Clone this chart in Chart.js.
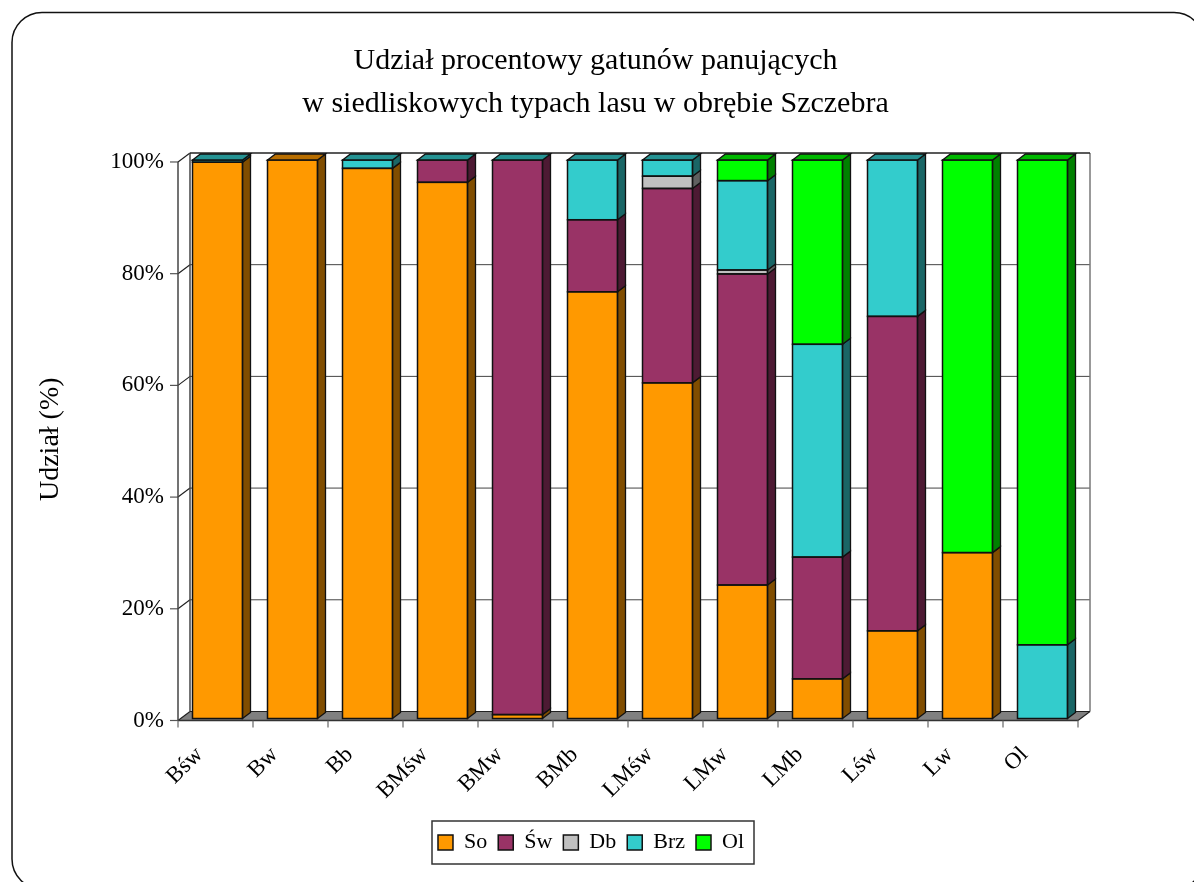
<!DOCTYPE html>
<html>
<head>
<meta charset="utf-8">
<title>Udział procentowy gatunów panujących</title>
<script src="https://cdn.jsdelivr.net/npm/chart.js@4"></script>
<style>
  html, body { margin: 0; padding: 0; background: #fff; overflow: hidden; }
  canvas { display: block; }
</style>
</head>
<body>
<canvas id="chart" width="1194" height="882"></canvas>
<script>
const categories = ['Bśw', 'Bw', 'Bb', 'BMśw', 'BMw', 'BMb', 'LMśw', 'LMw', 'LMb', 'Lśw', 'Lw', 'Ol'];
const titleLines = ['Udział procentowy gatunów panujących', 'w siedliskowych typach lasu w obrębie Szczebra'];
const yAxisLabel = 'Udział (%)';

// null = gatunek nie wystepuje, 0 = jest w tabeli ale zerowy (wtedy gorna scianka ma jego kolor)
const so  = [99.6, 100, 98.5, 96, 0.7, 76.4, 60.1, 23.9, 7.1, 15.7, 29.7, null];
const sw  = [null, null, null, 4, 99.3, 12.9, 34.8, 55.7, 21.8, 56.3, null, null];
const db  = [null, null, null, null, null, null, 2.2, 0.7, null, null, null, null];
const brz = [0.4, null, 1.5, 0, 0, 10.7, 2.9, 16, 38.1, 28, null, 13.2];
const ol  = [null, null, null, null, null, null, null, 3.7, 33, null, 70.3, 86.8];

const FONT = '"Liberation Serif", "Times New Roman", serif';
const OUTLINE = '#111';
const BAR_DX = 8, BAR_DY = 6;     // glebokosc slupka
const WALL_DX = 12, WALL_DY = 9;  // glebokosc tylnej sciany
const FRONT_DX = -2, FRONT_DY = 2; // przednia plaszczyzna osi wzgledem slupkow

function shade(hex, k) {
  let n = parseInt(hex.slice(1), 16);
  let r = Math.round((n >> 16 & 255) * k);
  let g = Math.round((n >> 8 & 255) * k);
  let b = Math.round((n & 255) * k);
  return 'rgb(' + r + ',' + g + ',' + b + ')';
}

function line(ctx, x1, y1, x2, y2, color, width) {
  ctx.beginPath();
  ctx.moveTo(x1, y1);
  ctx.lineTo(x2, y2);
  ctx.strokeStyle = color;
  ctx.lineWidth = width;
  ctx.stroke();
}

function poly(ctx, pts, fill) {
  ctx.beginPath();
  pts.forEach(function(p, i) {
    if (i === 0) ctx.moveTo(p[0], p[1]); else ctx.lineTo(p[0], p[1]);
  });
  ctx.closePath();
  ctx.fillStyle = fill;
  ctx.fill();
  ctx.strokeStyle = OUTLINE;
  ctx.lineWidth = 1.3;
  ctx.stroke();
}

function makeDataset(label, data, color) {
  return {
    label: label,
    data: data,
    backgroundColor: color,
    borderWidth: 0,
    inflateAmount: 0
  };
}

function legendLabels(chart) {
  let items = Chart.defaults.plugins.legend.labels.generateLabels(chart);
  items.forEach(function(it) {
    it.strokeStyle = OUTLINE;
    it.lineWidth = 1.5;
  });
  return items;
}

// rama, tylna sciana, podloga i siatka
const wallPlugin = {
  id: 'wall',
  beforeDraw(chart) {
    let ctx = chart.ctx;
    ctx.save();
    ctx.fillStyle = '#fff';
    ctx.fillRect(0, 0, chart.width, chart.height);
    ctx.beginPath();
    ctx.roundRect(12, 12.5, 1192, 876.5, 30);
    ctx.strokeStyle = '#111';
    ctx.lineWidth = 1.5;
    ctx.stroke();
    ctx.restore();
  },
  beforeDatasetsDraw(chart) {
    let ctx = chart.ctx;
    let area = chart.chartArea;
    let y = chart.scales.y;
    let left = area.left + FRONT_DX;
    let right = area.right + FRONT_DX;
    let y0 = y.getPixelForValue(0) + FRONT_DY;
    let y100 = y.getPixelForValue(100) + FRONT_DY;
    ctx.save();
    // podloga
    ctx.beginPath();
    ctx.moveTo(left, y0);
    ctx.lineTo(right, y0);
    ctx.lineTo(right + WALL_DX, y0 - WALL_DY);
    ctx.lineTo(left + WALL_DX, y0 - WALL_DY);
    ctx.closePath();
    ctx.fillStyle = '#808080';
    ctx.fill();
    // siatka i kreski na osi Y
    y.ticks.forEach(function(t) {
      let py = y.getPixelForValue(t.value) + FRONT_DY;
      if (t.value > 0 && t.value < 100) line(ctx, left + WALL_DX, py - WALL_DY, right + WALL_DX, py - WALL_DY, '#444', 1);
      line(ctx, left - 8, py, left, py, '#555', 1.2);
      line(ctx, left, py, left + WALL_DX, py - WALL_DY, '#222', 1.2);
    });
    // krawedzie
    line(ctx, left, y100, left, y0, '#444', 1.5);
    line(ctx, left + WALL_DX, y100 - WALL_DY, left + WALL_DX, y0 - WALL_DY, '#444', 1.5);
    line(ctx, right + WALL_DX, y100 - WALL_DY, right + WALL_DX, y0 - WALL_DY, '#777', 1.5);
    line(ctx, left + WALL_DX, y100 - WALL_DY, right + WALL_DX, y100 - WALL_DY, '#222', 1.5);
    line(ctx, left + WALL_DX, y0 - WALL_DY, right + WALL_DX, y0 - WALL_DY, '#222', 1.2);
    line(ctx, right, y0, right + WALL_DX, y0 - WALL_DY, '#222', 1.2);
    line(ctx, left, y0, right, y0, '#333', 1.5);
    // kreski na osi X
    for (let i = 0; i <= categories.length; i++) {
      let px = left + i * (right - left) / categories.length;
      line(ctx, px, y0, px, y0 + 7, '#666', 1.2);
    }
    ctx.restore();
  },
  afterDatasetsDraw(chart) {
    let ctx = chart.ctx;
    let sets = chart.data.datasets;
    ctx.save();
    categories.forEach(function(cat, i) {
      let lastSet = -1;
      sets.forEach(function(ds, s) {
        if (ds.data[i] !== null) lastSet = s;
      });
      sets.forEach(function(ds, s) {
        if (ds.data[i] === null) return;
        let bar = chart.getDatasetMeta(s).data[i];
        let r = bar.x + bar.width / 2;
        let l = bar.x - bar.width / 2;
        if (ds.data[i] > 0) {
          poly(ctx, [[r, bar.y], [r + BAR_DX, bar.y - BAR_DY], [r + BAR_DX, bar.base - BAR_DY], [r, bar.base]], shade(ds.backgroundColor, 0.5));
          ctx.strokeStyle = OUTLINE;
          ctx.lineWidth = 1.5;
          ctx.strokeRect(l, bar.y, r - l, bar.base - bar.y);
        }
        if (s === lastSet) {
          poly(ctx, [[l, bar.y], [l + BAR_DX, bar.y - BAR_DY], [r + BAR_DX, bar.y - BAR_DY], [r, bar.y]], shade(ds.backgroundColor, 0.72));
        }
      });
    });
    ctx.restore();
  },
  afterLayout(chart) {
    // tytul i legenda nie sa wysrodkowane wzgledem obszaru wykresu
    let t = chart.titleBlock;
    t.left = 0; t.right = 1191; t.top = 40; t.bottom = t.top + t.height;
    let lg = chart.legend;
    lg.left = 0; lg.right = 1182; lg.top = 820.5; lg.bottom = lg.top + lg.height;
    lg.adjustHitBoxes();
  },
  afterDraw(chart) {
    let ctx = chart.ctx;
    ctx.save();
    ctx.strokeStyle = '#333';
    ctx.lineWidth = 1.5;
    ctx.strokeRect(432, 821, 322, 43);
    ctx.restore();
  }
};

Chart.defaults.color = '#000';
Chart.defaults.font.family = FONT;

new Chart(document.getElementById('chart'), {
  type: 'bar',
  data: {
    labels: categories,
    datasets: [
      makeDataset('So', so, '#FF9900'),
      makeDataset('Św', sw, '#993366'),
      makeDataset('Db', db, '#C0C0C0'),
      makeDataset('Brz', brz, '#33CCCC'),
      makeDataset('Ol', ol, '#00FF00')
    ]
  },
  options: {
    responsive: false,
    animation: false,
    layout: { padding: { left: 0, right: 114, top: 74, bottom: 0 } },
    barPercentage: 2 / 3,
    categoryPercentage: 1,
    plugins: {
      title: {
        display: true,
        text: titleLines,
        color: '#000',
        padding: 0,
        font: { family: FONT, size: 30, weight: 'normal', lineHeight: 1.433 }
      },
      legend: {
        position: 'bottom',
        labels: {
          boxWidth: 15,
          boxHeight: 15,
          padding: 11,
          color: '#000',
          font: { family: FONT, size: 22 },
          generateLabels: legendLabels
        }
      },
      tooltip: { enabled: false }
    },
    scales: {
      x: {
        stacked: true,
        grid: { display: false, drawTicks: false },
        border: { display: false },
        ticks: {
          autoSkip: false,
          minRotation: 45,
          maxRotation: 45,
          padding: 23,
          labelOffset: -18,
          color: '#000',
          font: { family: FONT, size: 23 }
        },
        afterFit(scale) {
          scale.height = 882 - 718.5 - scale.chart.legend.height;
          scale.paddingLeft = 0;
          scale.paddingRight = 0;
        }
      },
      y: {
        stacked: true,
        min: 0,
        max: 100,
        grid: { display: false, drawTicks: false },
        border: { display: false },
        title: {
          display: true,
          text: yAxisLabel,
          color: '#000',
          padding: { top: 34, bottom: 0 },
          font: { family: FONT, size: 28 }
        },
        ticks: {
          stepSize: 20,
          padding: 16,
          labelOffset: 2,
          color: '#000',
          font: { family: FONT, size: 23 },
          callback: function(v) { return v + '%'; }
        },
        afterFit(scale) {
          scale.width = 180;
        }
      }
    }
  },
  plugins: [wallPlugin]
});
</script>
</body>
</html>
